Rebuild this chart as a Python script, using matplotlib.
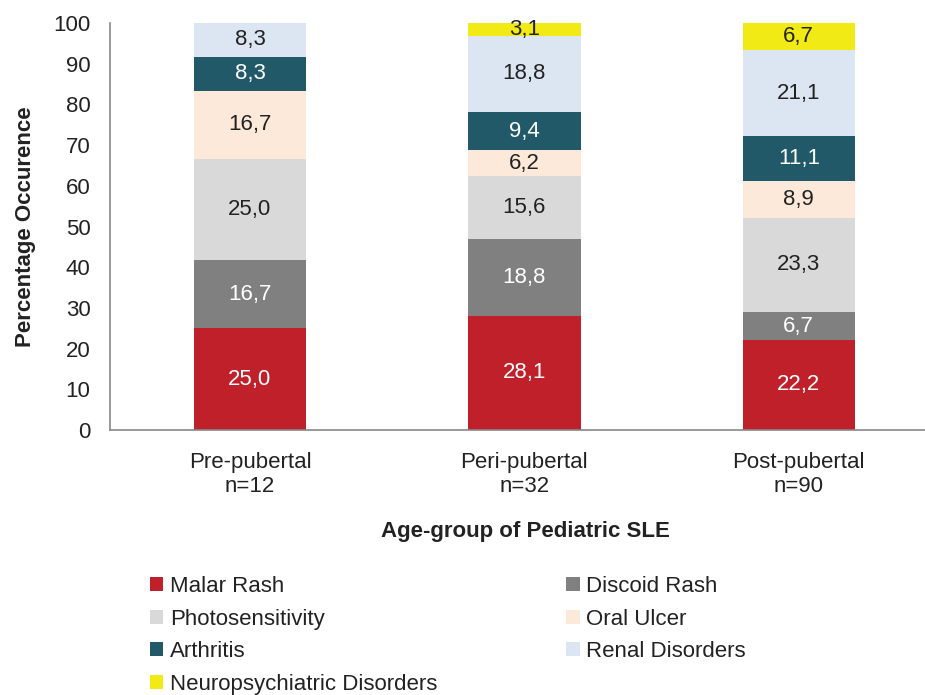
import matplotlib.pyplot as plt
import numpy as np

plt.rcParams['font.family'] = ['Liberation Sans', 'DejaVu Sans']

groups = ['Pre-pubertal\nn=12', 'Peri-pubertal\nn=32', 'Post-pubertal\nn=90']
series = ['Malar Rash', 'Discoid Rash', 'Photosensitivity', 'Oral Ulcer',
          'Arthritis', 'Renal Disorders', 'Neuropsychiatric Disorders']
malar = [25.0, 28.1, 22.2]
discoid = [16.7, 18.8, 6.7]
photo = [25.0, 15.6, 23.3]
oral = [16.7, 6.2, 8.9]
arthritis = [8.3, 9.4, 11.1]
renal = [8.3, 18.8, 21.1]
neuro = [0.0, 3.1, 6.7]

values = [malar, discoid, photo, oral, arthritis, renal, neuro]
colors = ['#C0202A', '#808080', '#D9D9D9', '#FDE9DA', '#215968', '#DCE6F2', '#F2EA14']
text_colors = ['white', 'white', '#222222', '#222222', 'white', '#222222', '#222222']
fs = 16

fig = plt.figure(figsize=(9.25, 6.95), dpi=100)
ax = fig.add_axes([110 / 925, 1 - 430 / 695, 1 - 110 / 925, (430 - 23) / 695])

x = np.arange(len(groups))
bottom = np.zeros(len(groups))
bars = []
for name, vals, c, tc in zip(series, values, colors, text_colors):
    b = ax.bar(x, vals, 0.41, bottom=bottom, color=c, label=name)
    bars.append(b)
    for xi, v, bt in zip(x, vals, bottom):
        if v > 0:
            ax.text(xi, bt + v / 2, f'{v:.1f}'.replace('.', ','), ha='center', va='center',
                    color=tc, fontsize=fs)
    bottom += np.array(vals)

ax.set_xlim(-0.51, 2.46)
ax.set_ylim(0, 100)
ax.set_yticks(range(0, 101, 10))
ax.set_xticks(x)
ax.set_xticklabels(groups, fontsize=fs, color='#222222', linespacing=1.2)
ax.tick_params(axis='y', length=0, pad=14, labelsize=fs, labelcolor='#222222')
ax.tick_params(axis='x', length=0, pad=16)
for s in ['top', 'right']:
    ax.spines[s].set_visible(False)
for s in ['left', 'bottom']:
    ax.spines[s].set_color('#888888')
    ax.spines[s].set_linewidth(1.2)

ax.set_ylabel('Percentage Occurence', fontsize=fs, fontweight='bold', color='#222222')
ax.yaxis.set_label_coords(-0.091, 0.5)
fig.text(525 / 925, 1 - 531 / 695, 'Age-group of Pediatric SLE', ha='center', va='center',
         fontsize=fs, fontweight='bold', color='#222222')

order = [0, 2, 4, 6, 1, 3, 5]
handles = [bars[i] for i in order]
labels = [series[i] for i in order]
fig.legend(handles, labels, loc='upper left', bbox_to_anchor=(150 / 925, 1 - 576 / 695),
           ncol=2, frameon=False, fontsize=fs, handlelength=0.6, handleheight=0.6,
           handletextpad=0.3, labelspacing=0.52, columnspacing=5.8,
           borderpad=0, borderaxespad=0, labelcolor='#222222')

plt.savefig('out.png', dpi=100)
